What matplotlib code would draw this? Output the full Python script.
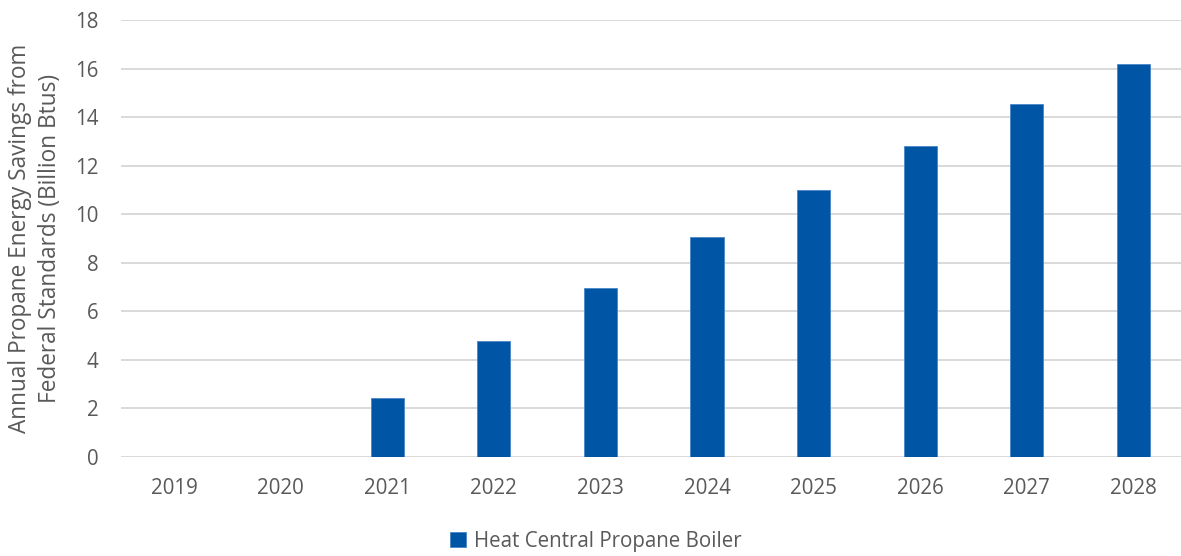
import matplotlib.pyplot as plt
import numpy as np

# annual propane savings, billion Btus
years = ["2019", "2020", "2021", "2022", "2023", "2024", "2025", "2026", "2027", "2028"]
savings = [0, 0, 2.45, 4.78, 6.98, 9.05, 11.0, 12.8, 14.55, 16.17]
series_name = "Heat Central Propane Boiler"

bar_color = "#0055A5"
text_color = "#595959"
grid_color = "#D9D9D9"

plt.rcParams["font.family"] = ["Open Sans", "DejaVu Sans"]

fig = plt.figure(figsize=(11.81, 5.56), dpi=100)
ax = fig.add_axes([120.7 / 1181, 99 / 556, 1066 / 1181, 437 / 556])

x = np.arange(len(years))
ax.bar(x, savings, width=0.31, color=bar_color, edgecolor="#4A86C8",
       linewidth=0.6, label=series_name, zorder=3)

ax.set_xlim(-0.5, len(years) - 0.5)
ax.set_ylim(0, 18)
ax.set_yticks(np.arange(0, 19, 2))
ax.set_xticks(x)
ax.set_xticklabels(years)

ax.grid(axis="y", color=grid_color, linewidth=1.4, zorder=0)
for side in ["top", "right", "left", "bottom"]:
    ax.spines[side].set_visible(False)
ax.tick_params(axis="both", length=0, labelsize=14.8, colors=text_color)
ax.tick_params(axis="x", pad=15)
ax.tick_params(axis="y", pad=16)

fig.text(35 / 1181, 1 - 238.5 / 556,
         "Annual Propane Energy Savings from\nFederal Standards (Billion Btus)",
         rotation=90, ha="center", va="center", multialignment="center",
         fontsize=16.3, color=text_color, linespacing=1.3)

leg = fig.legend(loc="center", bbox_to_anchor=(596 / 1181, 1 - 541 / 556), frameon=False,
                 fontsize=14.8, handlelength=0.75, handleheight=0.75, handletextpad=0.4)
for t in leg.get_texts():
    t.set_color(text_color)

fig.savefig("out.png", dpi=100)
